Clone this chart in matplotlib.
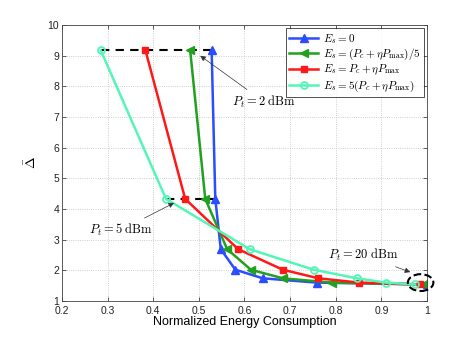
import numpy as np
import matplotlib
matplotlib.use('Agg')
import matplotlib.pyplot as plt
from matplotlib.patches import Ellipse

plt.rcParams['font.family'] = ['Liberation Sans', 'DejaVu Sans']
plt.rcParams['mathtext.fontset'] = 'cm'

# Delta values, shared by all series (one per transmit power level)
delta = [9.17, 4.33, 2.69, 2.02, 1.74, 1.60, 1.54]

# normalized energy consumption per series
x_es0 = [0.528, 0.536, 0.548, 0.580, 0.640, 0.758, 0.999]
x_es_fifth = [0.481, 0.514, 0.562, 0.614, 0.684, 0.791, 0.993]
x_es_one = [0.383, 0.470, 0.586, 0.684, 0.762, 0.851, 0.985]
x_es_five = [0.285, 0.428, 0.611, 0.752, 0.846, 0.910, 0.974]

labels = [r'$E_s = 0$',
          r'$E_s = (P_c + \eta P_{\max})/5$',
          r'$E_s = P_c + \eta P_{\max}$',
          r'$E_s = 5(P_c + \eta P_{\max})$']

fig = plt.figure(figsize=(4.71, 3.39), dpi=100)
ax = fig.add_axes([0.1316, 0.1121, 0.775, 0.8142])

# dashed lines joining points with equal transmit power
ax.plot([x_es_five[0], x_es0[0] + 0.005], [delta[0], delta[0]], 'k--', lw=1.5, dashes=(4, 3))
ax.plot([x_es_five[1], x_es0[1]], [delta[1], delta[1]], 'k--', lw=1.5, dashes=(4, 3))

ax.plot(x_es0, delta, '-^', color='#2b4cff', lw=1.8, ms=5.5, label=labels[0])
ax.plot(x_es_fifth, delta, '-<', color='#22a020', lw=1.8, ms=5.5, label=labels[1])
ax.plot(x_es_one, delta, '-s', color='#ff1818', lw=1.8, ms=4.5, label=labels[2])
ax.plot(x_es_five, delta, '-o', color='#55f5b8', lw=1.8, ms=5, mfc='none', mew=1.3,
        label=labels[3])

ell = Ellipse((0.986, 1.60), 0.056, 0.55, fill=False, ls='--', lw=1.5, ec='k',
              clip_on=False, zorder=5)
ax.add_patch(ell)

arrow = dict(arrowstyle='-|>', color='#333333', lw=0.5, mutation_scale=8)
ax.annotate(r'$P_t = 2\ \mathrm{dBm}$', xy=(0.498, 9.05), xytext=(0.573, 7.49),
            fontsize=9, va='center', ha='left', arrowprops=arrow)
ax.annotate(r'$P_t = 5\ \mathrm{dBm}$', xy=(0.451, 4.24), xytext=(0.259, 3.31),
            fontsize=9, va='center', ha='left', arrowprops=arrow)
ax.annotate(r'$P_t = 20\ \mathrm{dBm}$', xy=(0.969, 1.91), xytext=(0.783, 2.50),
            fontsize=9, va='center', ha='left', arrowprops=arrow)

ax.set_xlim(0.2, 1)
ax.set_ylim(1, 10)
ax.set_xticks(np.arange(0.2, 1.01, 0.1))
ax.set_xticklabels(['0.2', '0.3', '0.4', '0.5', '0.6', '0.7', '0.8', '0.9', '1'])
ax.set_yticks(range(1, 11))
ax.tick_params(direction='in', top=True, right=True, labelsize=7.5, length=3,
               width=0.5, pad=2, colors='#222222')
ax.tick_params(axis='x', pad=3.5)
ax.grid(True, ls=':', color='#c0c0c0', lw=0.6)
for s in ax.spines.values():
    s.set_linewidth(0.6)
    s.set_color('#444444')

ax.set_xlabel('Normalized Energy Consumption', fontsize=9, labelpad=0)
ax.set_ylabel(r'$\bar{\Delta}$', fontsize=10, labelpad=6)

leg = ax.legend(loc='upper right', fontsize=8, frameon=True, fancybox=False,
                edgecolor='k', borderpad=0.3, labelspacing=0.1, handlelength=2.6,
                handletextpad=0.4, borderaxespad=0.3)
leg.get_frame().set_linewidth(0.6)

fig.savefig('out.png', dpi=100)
